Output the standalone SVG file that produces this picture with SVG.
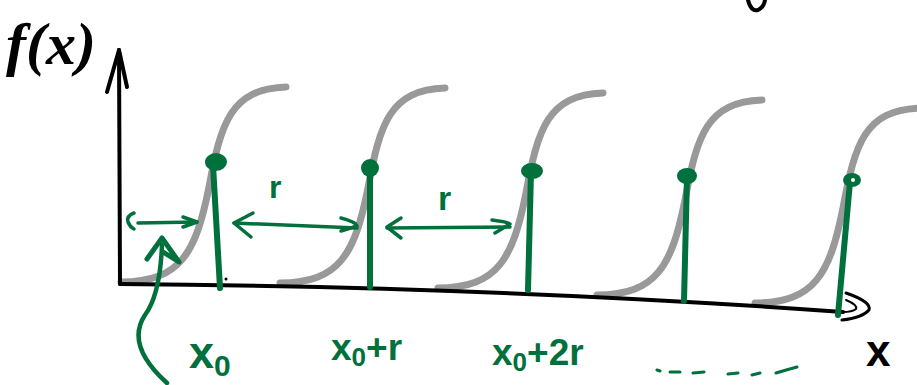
<svg xmlns="http://www.w3.org/2000/svg" width="917" height="385" viewBox="0 0 917 385">
<style>
.sig{fill:none;stroke:#999999;stroke-width:7;stroke-linecap:round;stroke-linejoin:round}
.ax{fill:none;stroke:#000;stroke-width:4;stroke-linecap:round;stroke-linejoin:round}
.stem{fill:none;stroke:#00703c;stroke-width:6;stroke-linecap:round}
.dot{fill:#00703c}
.arr{fill:none;stroke:#00703c;stroke-width:3.5;stroke-linecap:round;stroke-linejoin:round}
.gl{font-family:"Liberation Sans",Arial,sans-serif;font-weight:bold;fill:#00703c}
.bl{font-family:"Liberation Sans",Arial,sans-serif;font-weight:bold;fill:#000}
</style>
<defs>
<path id="sigmoid" d="M0,0 C60,0 75,-30 88,-95 C100,-160 110,-193 165,-195"/>
</defs>
<rect width="917" height="385" fill="#fff"/>

<g id="curves">
<use href="#sigmoid" class="sig" transform="translate(121,282)"/>
<use href="#sigmoid" class="sig" transform="translate(280,283)"/>
<use href="#sigmoid" class="sig" transform="translate(438,288)"/>
<use href="#sigmoid" class="sig" transform="translate(597,295)"/>
<use href="#sigmoid" class="sig" transform="translate(755,303)"/>
</g>

<g id="axes">
<path class="ax" d="M120,284 L119,50"/>
<path class="ax" d="M107,92 L119,50 L127,87"/>
<path class="ax" d="M120,284 Q500,287 843,312"/>
<path class="ax" d="M846,293 Q872,302 869,310 Q862,318 842,320" style="stroke-width:3"/>
<path class="ax" d="M846,300 Q858,305 856,309 Q852,312 843,312" style="stroke-width:2"/>
<path class="ax" d="M748,0 Q751,12 758,10 Q764,7 765,0"/>
<circle cx="226" cy="279" r="1.5" fill="#000"/>
</g>

<g id="samples">
<path class="stem" d="M213,165 L220,288"/>
<ellipse class="dot" cx="216" cy="162" rx="11" ry="9"/>
<path class="stem" d="M370,170 L370,287"/>
<ellipse class="dot" cx="370" cy="168" rx="9" ry="9"/>
<path class="stem" d="M531,172 L528,290"/>
<ellipse class="dot" cx="532" cy="171" rx="11" ry="8"/>
<path class="stem" d="M687,177 L684,301"/>
<ellipse class="dot" cx="687" cy="176" rx="10" ry="8"/>
<path class="stem" d="M850,182 L838,315"/>
<ellipse class="dot" cx="852" cy="180" rx="9" ry="7"/>
<circle cx="853" cy="180" r="2" fill="#fff"/>
</g>

<g id="connectors">
<path class="arr" d="M134,213 Q126,216 128,222 Q130,227 134,229"/>
<path class="arr" d="M138,223 L197,222"/>
<path class="arr" d="M183,217 L197,222 L183,227"/>
<path class="arr" d="M253,213 L234,223 L251,237"/>
<path class="arr" d="M234,223 L357,228"/>
<path class="arr" d="M341,218 Q356,222 357,226 L341,231"/>
<path class="arr" d="M401,218 L387,227 L401,238"/>
<path class="arr" d="M387,228 L510,227"/>
<path class="arr" d="M492,220 Q508,222 510,224 L495,233"/>
<path class="arr" d="M167,383 Q125,345 145,315 Q160,295 162,245" style="stroke-width:4.5"/>
<path class="arr" d="M147,259 L162,238 L179,262 L163,252" style="stroke-width:5"/>
<path class="arr" d="M657,370 L660,371 M670,372 L680,372 M693,373 L704,372 M728,374 L738,373 M752,375 L760,373 M776,373 Q786,370 797,367" style="stroke-width:3"/>
</g>

<g id="labels">
<text class="bl" x="6" y="64" style="font-family:'Liberation Serif',serif;font-style:italic;font-size:60px">f(x)</text>
<text class="bl" x="866" y="366" style="font-size:44px">x</text>
<text class="gl" x="269" y="198" style="font-size:32px">r</text>
<text class="gl" x="438" y="210" style="font-size:34px">r</text>
<text class="gl" x="189" y="368" style="font-size:45px">x<tspan dy="8" style="font-size:30px">0</tspan></text>
<text class="gl" x="331" y="360" style="font-size:37px">x<tspan dy="6" style="font-size:26px">0</tspan><tspan dy="-6">+r</tspan></text>
<text class="gl" x="492" y="365" style="font-size:37px">x<tspan dy="6" style="font-size:26px">0</tspan><tspan dy="-6">+2r</tspan></text>
</g>
</svg>
